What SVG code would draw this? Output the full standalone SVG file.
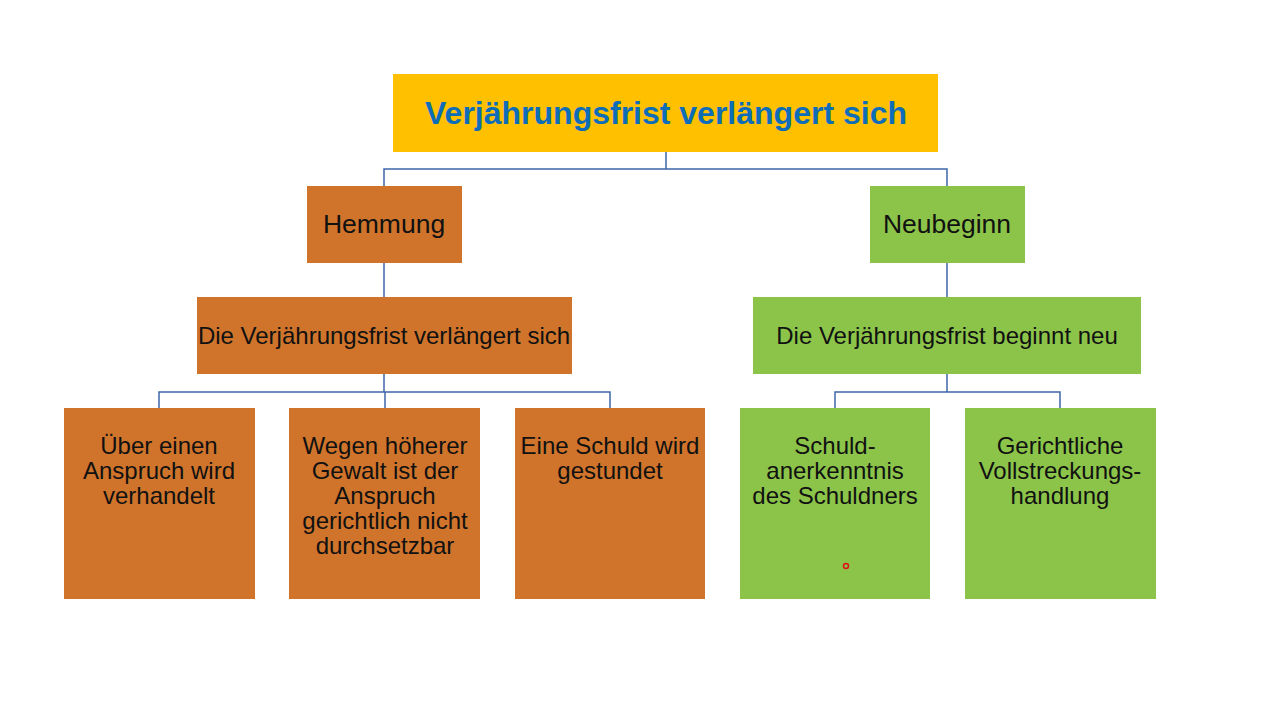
<svg xmlns="http://www.w3.org/2000/svg" width="1280" height="720" viewBox="0 0 1280 720">
<style>
.or{fill:#D0742C}
.gr{fill:#8CC44A}
.t{font-family:"Liberation Sans",Arial,sans-serif;font-size:24px;fill:#111;text-anchor:middle}
.h{font-size:26.5px}
.title{font-family:"Liberation Sans",Arial,sans-serif;font-size:32px;font-weight:bold;fill:#0E6DB8;text-anchor:middle}
.c{fill:none;stroke:#3E65A8;stroke-width:1.5}
</style>
<rect width="1280" height="720" fill="#fff"/>
<g id="connectors">
<path class="c" d="M666 152V169M384 186V169H947V186"/>
<path class="c" d="M384 263V297M947 263V297"/>
<path class="c" d="M384 374V392M159 408V392H610V408M385 392V408"/>
<path class="c" d="M947 374V392M835 408V392H1060V408"/>
</g>
<g id="root"><rect x="393" y="74" width="545" height="78" fill="#FFC000"/><text class="title" x="666" y="124">Verjährungsfrist verlängert sich</text></g>
<g id="hemmung"><rect class="or" x="307" y="186" width="155" height="77"/><text class="t h" x="384" y="233">Hemmung</text></g>
<g id="neubeginn"><rect class="gr" x="870" y="186" width="155" height="77"/><text class="t h" x="947" y="233">Neubeginn</text></g>
<g id="hemmung-desc"><rect class="or" x="197" y="297" width="375" height="77"/><text class="t" x="384" y="344">Die Verjährungsfrist verlängert sich</text></g>
<g id="neubeginn-desc"><rect class="gr" x="753" y="297" width="388" height="77"/><text class="t" x="947" y="344">Die Verjährungsfrist beginnt neu</text></g>
<g id="h1"><rect class="or" x="64" y="408" width="191" height="191"/><text class="t" x="159" y="454">Über einen<tspan x="159" dy="25">Anspruch wird</tspan><tspan x="159" dy="25">verhandelt</tspan></text></g>
<g id="h2"><rect class="or" x="289" y="408" width="191" height="191"/><text class="t" x="385" y="454">Wegen höherer<tspan x="385" dy="25">Gewalt ist der</tspan><tspan x="385" dy="25">Anspruch</tspan><tspan x="385" dy="25">gerichtlich nicht</tspan><tspan x="385" dy="25">durchsetzbar</tspan></text></g>
<g id="h3"><rect class="or" x="515" y="408" width="190" height="191"/><text class="t" x="610" y="454">Eine Schuld wird<tspan x="610" dy="25">gestundet</tspan></text></g>
<g id="n1"><rect class="gr" x="740" y="408" width="190" height="191"/><text class="t" x="835" y="454">Schuld-<tspan x="835" dy="25">anerkenntnis</tspan><tspan x="835" dy="25">des Schuldners</tspan></text></g>
<g id="n2"><rect class="gr" x="965" y="408" width="191" height="191"/><text class="t" x="1060" y="454">Gerichtliche<tspan x="1060" dy="25">Vollstreckungs-</tspan><tspan x="1060" dy="25">handlung</tspan></text></g>
<circle cx="846" cy="566" r="2.5" fill="none" stroke="#E0101A" stroke-width="1.5"/>
</svg>
